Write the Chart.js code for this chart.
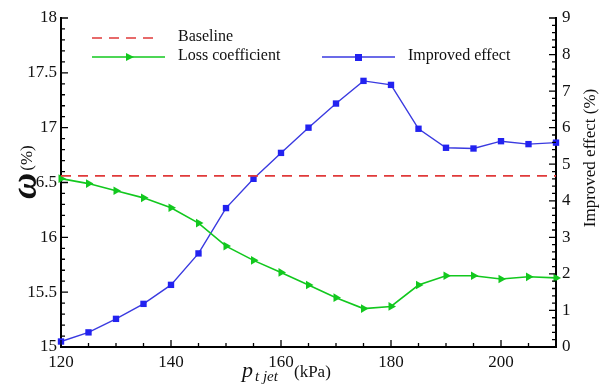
<!DOCTYPE html>
<html>
<head>
<meta charset="utf-8">
<script src="https://cdn.jsdelivr.net/npm/chart.js@4.4.1/dist/chart.umd.min.js"></script>
<style>
  html, body { margin: 0; padding: 0; background: #fff; }
  #wrap { width: 604px; height: 387px; }
</style>
</head>
<body>
<div id="wrap"><canvas id="line-chart" width="604" height="387"></canvas></div>
<script>
// data
var pressure = [120, 125, 130, 135, 140, 145, 150, 155, 160, 165, 170, 175, 180, 185, 190, 195, 200, 205, 210];
var lossCoefficient = [16.535, 16.49, 16.425, 16.36, 16.27, 16.13, 15.92, 15.79, 15.68, 15.565, 15.45, 15.35, 15.37, 15.565, 15.65, 15.65, 15.62, 15.64, 15.63];
var improvedEffect = [0.15, 0.40, 0.77, 1.18, 1.70, 2.56, 3.80, 4.60, 5.31, 6.00, 6.66, 7.28, 7.17, 5.97, 5.45, 5.43, 5.63, 5.55, 5.59];
var baselineValue = 16.56;
var xTicks = [120, 140, 160, 180, 200];
var leftTicks = [15, 15.5, 16, 16.5, 17, 17.5, 18];
var leftTickLabels = ['15', '15.5', '16', '16.5', '17', '17.5', '18'];
var rightTicks = [0, 1, 2, 3, 4, 5, 6, 7, 8, 9];

var GREEN = '#12c81e';
var BLUE = '#3a3ae0';
var RED = '#e03a3a';
var SERIF = '"Liberation Serif", "DejaVu Serif", serif';

function pts(ys) {
  return pressure.map(function(x, i) { return {x: x, y: ys[i]}; });
}

// inward ticks, legend and axis titles
var decor = {
  id: 'decor',
  afterDraw: function(chart) {
    var c = chart.ctx, a = chart.chartArea;
    var sx = chart.scales.x, sl = chart.scales.yL, sr = chart.scales.yR;
    c.save();
    c.strokeStyle = '#000';
    c.lineWidth = 1.3;
    c.beginPath();
    for (var v = 120; v <= 210; v += 5) {
      var px = sx.getPixelForValue(v), len = (v % 20 === 0) ? 7 : 4;
      c.moveTo(px, a.bottom); c.lineTo(px, a.bottom - len);
    }
    for (var i = 0; i <= 30; i++) {
      var val = 15 + i * 0.1, py = sl.getPixelForValue(val), l = (i % 5 === 0) ? 7 : 4;
      c.moveTo(a.left, py); c.lineTo(a.left + l, py);
    }
    for (var j = 0; j <= 45; j++) {
      var rv = j * 0.2, ry = sr.getPixelForValue(rv), rl = (j % 5 === 0) ? 7 : 4;
      c.moveTo(a.right, ry); c.lineTo(a.right - rl, ry);
    }
    c.stroke();

    // legend
    c.lineWidth = 1.6;
    c.strokeStyle = RED;
    c.setLineDash([10, 7]);
    c.beginPath(); c.moveTo(92, 38); c.lineTo(160, 38); c.stroke();
    c.setLineDash([]);
    c.strokeStyle = GREEN;
    c.beginPath(); c.moveTo(92, 57); c.lineTo(165, 57); c.stroke();
    c.fillStyle = GREEN;
    c.beginPath(); c.moveTo(126, 53); c.lineTo(134, 57); c.lineTo(126, 61); c.closePath(); c.fill();
    c.strokeStyle = BLUE;
    c.beginPath(); c.moveTo(322, 57); c.lineTo(395, 57); c.stroke();
    c.fillStyle = '#2222f0';
    c.fillRect(355, 54, 7, 7);
    c.fillStyle = '#111';
    c.font = '16px ' + SERIF;
    c.textBaseline = 'middle';
    c.textAlign = 'left';
    c.fillText('Baseline', 178, 37);
    c.fillText('Loss coefficient', 178, 56);
    c.fillText('Improved effect', 408, 56);

    // x title
    c.textBaseline = 'alphabetic';
    c.font = 'italic 22px ' + SERIF;
    c.fillText('p', 242, 377);
    c.font = 'italic 15px ' + SERIF;
    c.fillText('t jet', 255, 381);
    c.font = '17px ' + SERIF;
    c.fillText('(kPa)', 294, 377);

    // right title
    c.save();
    c.translate(591, 158);
    c.rotate(-Math.PI / 2);
    c.textAlign = 'center';
    c.textBaseline = 'middle';
    c.font = '17px ' + SERIF;
    c.fillText('Improved effect (%)', 0, 0);
    c.restore();

    // left title: omega sits on top of the 16.5 label
    c.fillStyle = '#fff';
    c.fillRect(15, 171, 20, 30);
    c.fillStyle = '#111';
    c.save();
    c.translate(27, 186);
    c.rotate(-Math.PI / 2);
    c.textAlign = 'center';
    c.textBaseline = 'middle';
    c.font = 'bold italic 36px ' + SERIF;
    c.fillText('\u03c9', 0, 0);
    c.restore();
    c.save();
    c.translate(28, 158);
    c.rotate(-Math.PI / 2);
    c.textAlign = 'center';
    c.textBaseline = 'middle';
    c.font = '17px ' + SERIF;
    c.fillText('(%)', 0, 0);
    c.restore();
    c.restore();
  }
};

new Chart(document.getElementById('line-chart'), {
  type: 'line',
  data: {
    datasets: [{
      label: 'Baseline',
      data: [{x: 120, y: baselineValue}, {x: 210, y: baselineValue}],
      yAxisID: 'yL',
      borderColor: RED,
      borderWidth: 1.6,
      borderDash: [10, 7],
      pointRadius: 0
    }, {
      label: 'Loss coefficient',
      data: pts(lossCoefficient),
      yAxisID: 'yL',
      borderColor: GREEN,
      borderWidth: 1.6,
      pointStyle: 'triangle',
      rotation: 90,
      pointRadius: 5,
      pointBackgroundColor: GREEN,
      pointBorderColor: GREEN,
      pointBorderWidth: 0
    }, {
      label: 'Improved effect',
      data: pts(improvedEffect),
      yAxisID: 'yR',
      borderColor: BLUE,
      borderWidth: 1.4,
      pointStyle: 'rect',
      pointRadius: 4.5,
      pointBackgroundColor: '#2222f0',
      pointBorderColor: '#2222f0',
      pointBorderWidth: 0
    }]
  },
  options: {
    responsive: false,
    animation: false,
    clip: false,
    layout: { padding: { top: 18, left: 0, right: 0, bottom: 0 } },
    plugins: {
      legend: { display: false },
      title: { display: false },
      tooltip: { enabled: false }
    },
    scales: {
      x: {
        type: 'linear',
        min: 120,
        max: 210,
        afterBuildTicks: function(s) { s.ticks = xTicks.map(function(v) { return {value: v}; }); },
        afterFit: function(s) { s.height = 40; },
        grid: { display: false, drawTicks: false },
        border: { display: true, color: '#000', width: 2 },
        ticks: {
          padding: 5, color: '#111', autoSkip: false, maxRotation: 0,
          font: { family: SERIF, size: 17 },
          callback: function(v) { return String(v); }
        }
      },
      yL: {
        type: 'linear',
        position: 'left',
        min: 15,
        max: 18,
        afterBuildTicks: function(s) { s.ticks = leftTicks.map(function(v) { return {value: v}; }); },
        afterFit: function(s) { s.width = 61; },
        grid: { display: false, drawTicks: false },
        border: { display: true, color: '#000', width: 2 },
        ticks: {
          padding: 4, color: '#111', autoSkip: false,
          font: { family: SERIF, size: 17 },
          callback: function(v, idx) { return leftTickLabels[idx]; }
        }
      },
      yR: {
        type: 'linear',
        position: 'right',
        min: 0,
        max: 9,
        afterBuildTicks: function(s) { s.ticks = rightTicks.map(function(v) { return {value: v}; }); },
        afterFit: function(s) { s.width = 48; },
        grid: { display: false, drawTicks: false },
        border: { display: true, color: '#000', width: 2 },
        ticks: {
          padding: 6, color: '#111', autoSkip: false,
          font: { family: SERIF, size: 17 },
          callback: function(v) { return String(v); }
        }
      }
    }
  },
  plugins: [decor]
});
</script>
</body>
</html>
